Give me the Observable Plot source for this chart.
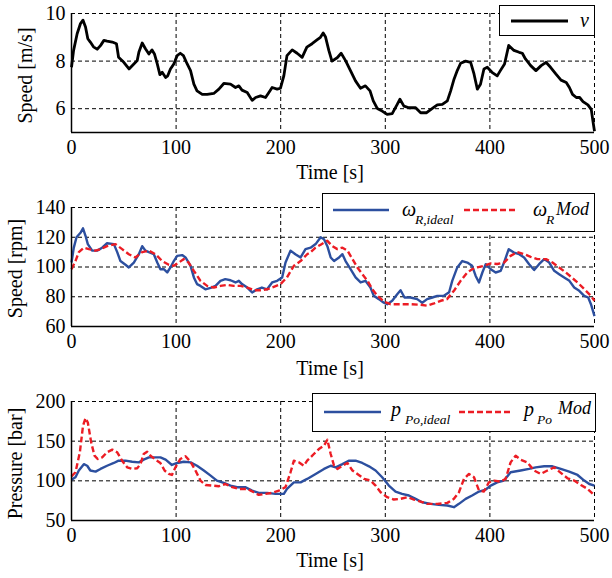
<!DOCTYPE html>
<html>
<head>
<meta charset="utf-8">
<script src="https://cdn.jsdelivr.net/npm/d3@7"></script>
<script src="https://cdn.jsdelivr.net/npm/@observablehq/plot@0.6"></script>
<style>
  html, body { margin: 0; padding: 0; background: #fff; }
  #root { position: relative; width: 612px; height: 578px; background: #fff; font-family: "Liberation Serif", "Times New Roman", serif; }
  .panel { position: absolute; left: 0; }
  .leg { position: absolute; box-sizing: border-box; border: 1.5px solid #000; background: #fff; }
  .leg svg { position: absolute; left: 0; top: 0; overflow: visible; }
  .leg text { font-family: "Liberation Serif", "Times New Roman", serif; font-style: italic; fill: #000; }
</style>
</head>
<body>
<div id="root"></div>
<script>
// ---------- data ----------
const xTicks = [0, 100, 200, 300, 400, 500];

// Panel 1: wind speed v [m/s]
const speedT = [0,2,5.4,8.6,11,13.4,15.6,18,21,24.5,27.7,31,34,39,43,45,50,55,59.6,62.8,64.4,67.6,70.7,74,77,79.3,82,84.5,86.7,90,92,94.6,97.8,101,104,107,110.6,113.8,117,120,125,129.7,136,140.9,145.6,152,156.8,160,163,168,172.7,176,180.7,185.5,188.7,191.8,196.6,199.8,203,206,211,215.7,220.5,225,230,235,238,240.6,242.9,246,249,254,257.8,262,266.7,271.5,276.3,281,285.4,288.5,292.3,297,301.8,306.6,311.4,314,317.8,322.6,329,333.8,339.5,345,349.7,354.5,359.3,362.5,365.7,368.8,372,376.8,381.6,384.8,388,391,394.3,397.5,402,407,410,414,418,423,428,431,434,439,444,449,453.6,458,463,468,473,476,479,482.6,485.8,489,493.7,496.9,498.5,500];
const speedV = [7.74,8.45,9.15,9.58,9.72,9.43,8.94,8.8,8.6,8.5,8.65,8.87,8.84,8.8,8.73,8.16,7.95,7.67,7.88,8.02,8.37,8.76,8.52,8.3,8.47,8.3,7.88,7.43,7.53,7.31,7.38,7.67,7.88,8.23,8.33,8.23,7.88,7.6,7.03,6.75,6.6,6.6,6.64,6.82,7.06,7.03,6.89,6.96,6.78,6.68,6.35,6.47,6.54,6.47,6.68,6.89,6.82,6.86,7.38,8.23,8.47,8.33,8.16,8.59,8.73,8.9,9.0,9.18,9.01,8.45,8.0,8.14,8.33,8.02,7.6,7.17,6.86,6.96,6.75,6.33,6.01,5.9,5.76,5.79,6.18,6.4,6.11,6.04,6.04,5.83,5.83,6.01,6.16,6.18,6.33,6.75,7.24,7.6,7.91,8.0,7.95,7.46,6.82,7.03,7.67,7.74,7.53,7.38,7.6,7.88,8.66,8.45,8.37,8.33,8.09,7.81,7.6,7.81,7.95,7.74,7.46,7.2,7.1,6.89,6.6,6.47,6.47,6.3,6.16,5.97,5.48,5.05];

// Panel 2: rotor speed [rpm]
const rpmIdealT = [0,2.2,4.8,8.6,11,13.4,15.6,19.8,24.5,29.3,34,40.5,43.7,46.8,51.6,54.8,59.6,64.4,67.6,70.7,74,78.7,82,85,88.3,91.5,94.6,97.8,101,105.8,109,113.8,117,120,123.3,128,133,137.7,142.4,147,152,156.8,160,163,168,172.7,177.5,182,187,191.8,196.6,201.4,204.6,209.4,214,219,223.7,228.6,233.4,238.2,241.4,244.6,247.8,251,255.8,259,262,266.8,271.6,276.4,281,285.8,289,293.8,298.6,301.8,306.6,311.4,314.6,318.4,324,330.5,335.3,340,345,349.7,356,361,364,368.8,373.6,378.4,383,386.4,389.6,392.8,396,400.8,405.5,410.3,413.5,418,423,428,432.7,437.5,442.3,447,451.9,456.7,461.5,466.2,471,476,480.6,485.4,490.2,494,496.6,500];
const rpmIdealV = [103,113,120,123,126,121,115.4,111,111,113,116,115.4,110,104,101.5,99.7,103,108.6,114,111,110,108.6,103,98.5,98.5,96.3,99.7,104,107.5,108,106.4,100.8,93,88.5,87.3,85,86,87.3,90.7,91.8,91.1,89.6,90.7,88.5,86.2,82.9,85,86.2,85,89.6,90.7,93,103,111,108.6,106.4,112,113,115.4,120,118.7,114,106.4,104,106.4,108.6,104,98.5,93,89.6,90.7,86.2,80.6,78.4,76,75,77.3,81.7,84.4,79.5,79.5,78.4,76,78.4,79.5,80.6,80.6,83,90.7,99.7,104,103,100.8,94,89.6,96.3,101.9,98.5,96.3,97.4,103,112,109.7,108.6,106.4,101.9,98,101.9,105.3,103,97.4,95.2,93,90.7,86.2,84,80.6,79.5,75,67];
const rpmModT = [0,3.8,7,11.8,16.6,23,27.7,34,42,48.4,54.8,61,67.6,74,80.3,86.7,93,97.8,102.6,107.4,112,117,123.3,129.7,136,142.4,148.8,155,161.6,168,174.3,180.7,187,193.4,199.8,206,212.6,219,225.3,228.6,233.3,238.2,244.6,249.4,254.2,259,263.8,268.6,273.3,278,283,287.7,292.5,298.6,305,314.6,324,333.7,340,346.6,353,359,365.6,372,378.4,383,388,394.3,400.8,407,413.5,419.8,426,432.7,439,445.4,453.6,459.8,466.2,472.6,479,485.4,491.8,496.6,500];
const rpmModV = [98.5,104,110,113,112,111,112,114,115.4,112,108.6,106.4,110,111,108.6,104,101.5,100.8,103,105.3,103,97.4,90.7,87.3,86.2,87.3,88,87.3,87.3,86.2,84.4,84.4,85,86.7,88.5,93,100.8,104,108.6,110,113,115,117.6,114,112,113,111,105.3,99.7,95.2,90.7,85,80.6,76.8,75,75,75,74.6,74,75.5,77.3,78.4,84,90.7,96.3,98.5,99.7,100.8,102.4,102,103,107.5,110,108.6,106.8,105.3,105.3,103,99.7,96.3,92.5,88.5,84,80.6,77.3];

// Panel 3: pressure [bar]
const pIdealT = [0,3.8,7,11.8,15,18,23,27.7,34,40.5,45,51.6,58,64.4,69,74,80.3,85,90,96,101,107.4,113.8,120,126.5,133,139,145.6,152,158.4,166,172.7,179,187,195,203,206,212.6,219,225.3,233.4,241.4,247.8,252.6,259,265,271.6,278,284.4,290.7,297,303.4,309.8,316,322.6,329,335.3,343.3,351.2,359.3,365.6,370.4,376.8,383,389.6,396,400.8,407,413.5,419.8,429.4,437.4,443.8,451.9,459.8,467.8,475.8,483.8,490.2,495,500];
const pIdealV = [101.5,104.5,113,121,119,113,111.6,115,119,122.5,125.4,125.4,124,123.3,126.7,129.6,129.6,129.6,126.7,120,122.5,124,123.3,119,113,106.6,100.3,97.4,94,92,92,87.7,84.8,84.8,83.5,83.5,89.8,98,98,102.4,108.7,115,119,117,121,125.4,125.4,122.5,118.3,113,104.5,94,86.5,83.5,81.5,77.3,73,71,69.7,68.9,66.8,71,77.3,81.5,86.5,89,94,98,100.3,110.8,113,115,117,118.3,118.3,115,111.6,107.4,100.3,96,94];
const pModT = [0,3.8,8,11,13.4,15.6,18.8,22,25,29.3,34,39,43.7,48.4,53.2,58,62.8,66,69,72.3,75.5,80.3,85,89,93,96,99.4,104,109,113.8,118.5,123.3,128,134.5,140.9,147,153.6,160,168,174.3,179,185.5,191.8,198.2,204.6,209.4,212.6,217.3,222,225.3,231.7,236.5,241.4,244.6,247.8,251,254.2,259,263.8,268.6,273.3,279.7,286,290.7,295.5,301.8,308.2,314.6,321,327.4,333.7,340,349.7,359.3,365.6,370.4,375.2,380,384.8,389.6,394.3,399,404,410.3,415,419.8,424.6,429.4,435.8,442.2,448.5,455,461.5,467.8,474.2,480.6,487,493.4,500];
const pModV = [105.7,110.8,136,169.4,179,173.6,148.5,131.7,127.5,129.6,136,139.3,136,125.4,117,115,115.8,121.2,133.8,136.7,131.7,126.7,122.5,113,108.7,107.4,117,127.5,131,124,113,100.3,94.8,94,93.2,96,92,89.8,89.8,85.6,82.3,83.5,84.8,87.7,92,110.8,125.4,123.3,119,125.4,133.8,140,144.3,151.8,133.8,119,115,119,122.5,113,108.7,102.4,100.3,94,85.6,79.4,76.4,77.3,79.4,76.4,73.9,71,71,72.2,77.3,85.6,102.4,108.7,104.5,87.7,86.5,98,100.3,99,102.4,123.3,131.7,126.7,123.3,113,108.7,113,117,110,103.2,100.3,94.8,89.8,81.5];

// ---------- drawing ----------
const BLUE = "#2c4f9f";
const RED = "#ec1c24";
const FONT = "'Liberation Serif', 'Times New Roman', serif";
const rows = (t, v) => t.map((x, i) => ({t: x, v: v[i]}));

function panel({top, height, mTop, mBottom, yDomain, yTicks, yLabel, yLabelX, yLabelY, xLabelY, series}) {
  const yMin = yDomain[0];
  const lines = series.map(s => Plot.line(rows(s.t, s.v), {
    x: "t", y: "v", stroke: s.color, strokeWidth: s.width,
    strokeDasharray: s.dash || null, strokeLinejoin: "round", strokeLinecap: "butt"
  }));
  const frameMid = mTop + (height - mTop - mBottom) / 2;
  const p = Plot.plot({
    width: 612, height,
    marginLeft: 71, marginRight: 18, marginTop: mTop, marginBottom: mBottom,
    style: {fontFamily: FONT, fontSize: "20px", color: "#000", background: "transparent", overflow: "visible"},
    x: {domain: [0, 500]},
    y: {domain: yDomain},
    marks: [
      Plot.gridX(xTicks.slice(1), {stroke: "#000", strokeOpacity: 1, strokeWidth: 1, strokeDasharray: "4,3"}),
      Plot.gridY(yTicks.filter(d => d !== yMin), {stroke: "#000", strokeOpacity: 1, strokeWidth: 1, strokeDasharray: "4,3"}),
      ...lines,
      Plot.ruleX([0], {stroke: "#000", strokeWidth: 1.5}),
      Plot.ruleY([yMin], {stroke: "#000", strokeWidth: 1.5}),
      Plot.axisX(xTicks, {tickSize: 0, tickPadding: 7, fontSize: 20, label: null}),
      Plot.axisY(yTicks, {tickSize: 0, tickPadding: 6, fontSize: 20, label: null}),
      Plot.text(["Time [s]"], {frameAnchor: "bottom", dy: xLabelY - (height - mBottom), dx: -3,
        textAnchor: "middle", lineAnchor: "middle", fontSize: 20}),
      Plot.text([yLabel], {frameAnchor: "left", rotate: -90, dx: yLabelX - 71, dy: yLabelY - frameMid,
        textAnchor: "middle", lineAnchor: "middle", fontSize: 20})
    ]
  });
  p.classList.add("panel");
  p.style.top = top + "px";
  p.style.position = "absolute";
  document.getElementById("root").appendChild(p);
}

// label positions are in each panel's own pixel frame
panel({top: 0, height: 185, mTop: 13, mBottom: 53, yDomain: [5, 10], yTicks: [6, 8, 10],
  yLabel: "Speed [m/s]", yLabelX: 25, yLabelY: 75, xLabelY: 172,
  series: [{t: speedT, v: speedV, color: "#000", width: 2.8}]});

panel({top: 185, height: 193, mTop: 22, mBottom: 52, yDomain: [60, 140], yTicks: [60, 80, 100, 120, 140],
  yLabel: "Speed [rpm]", yLabelX: 15, yLabelY: 83, xLabelY: 183,
  series: [
    {t: rpmIdealT, v: rpmIdealV, color: BLUE, width: 2.4},
    {t: rpmModT, v: rpmModV, color: RED, width: 2.4, dash: "6,3"}
  ]});

panel({top: 378, height: 200, mTop: 23, mBottom: 58, yDomain: [50, 200], yTicks: [50, 100, 150, 200],
  yLabel: "Pressure [bar]", yLabelX: 15, yLabelY: 85, xLabelY: 182,
  series: [
    {t: pIdealT, v: pIdealV, color: BLUE, width: 2.4},
    {t: pModT, v: pModV, color: RED, width: 2.4, dash: "6,3"}
  ]});

// ---------- legends ----------
function legend(left, top, w, h, inner) {
  const d = document.createElement("div");
  d.className = "leg";
  Object.assign(d.style, {left: left + "px", top: top + "px", width: w + "px", height: h + "px"});
  d.innerHTML = `<svg width="${w}" height="${h}">${inner}</svg>`;
  document.getElementById("root").appendChild(d);
}

legend(499, 5, 96, 31,
  `<line x1="11" x2="68" y1="15" y2="15" stroke="#000" stroke-width="2.8"/>
   <text x="80" y="21" font-size="20">v</text>`);

legend(322, 193, 273, 39,
  `<line x1="10" x2="66" y1="16" y2="16" stroke="${BLUE}" stroke-width="2.6"/>
   <text x="79" y="22" font-size="20">ω</text>
   <text x="92" y="30" font-size="13.5">R,ideal</text>
   <line x1="141" x2="195" y1="16" y2="16" stroke="${RED}" stroke-width="2.6" stroke-dasharray="6,3"/>
   <text x="210" y="22" font-size="20">ω</text>
   <text x="223" y="30" font-size="13.5">R</text>
   <text x="233" y="21" font-size="18">Mod</text>`);

legend(312, 393, 284, 39,
  `<line x1="11" x2="68" y1="18" y2="18" stroke="${BLUE}" stroke-width="2.6"/>
   <text x="78" y="22" font-size="20">p</text>
   <text x="92" y="30" font-size="13.5">Po,ideal</text>
   <line x1="146" x2="200" y1="18" y2="18" stroke="${RED}" stroke-width="2.6" stroke-dasharray="6,3"/>
   <text x="211" y="22" font-size="20">p</text>
   <text x="224" y="30" font-size="13.5">Po</text>
   <text x="245" y="20" font-size="18">Mod</text>`);
</script>
</body>
</html>
